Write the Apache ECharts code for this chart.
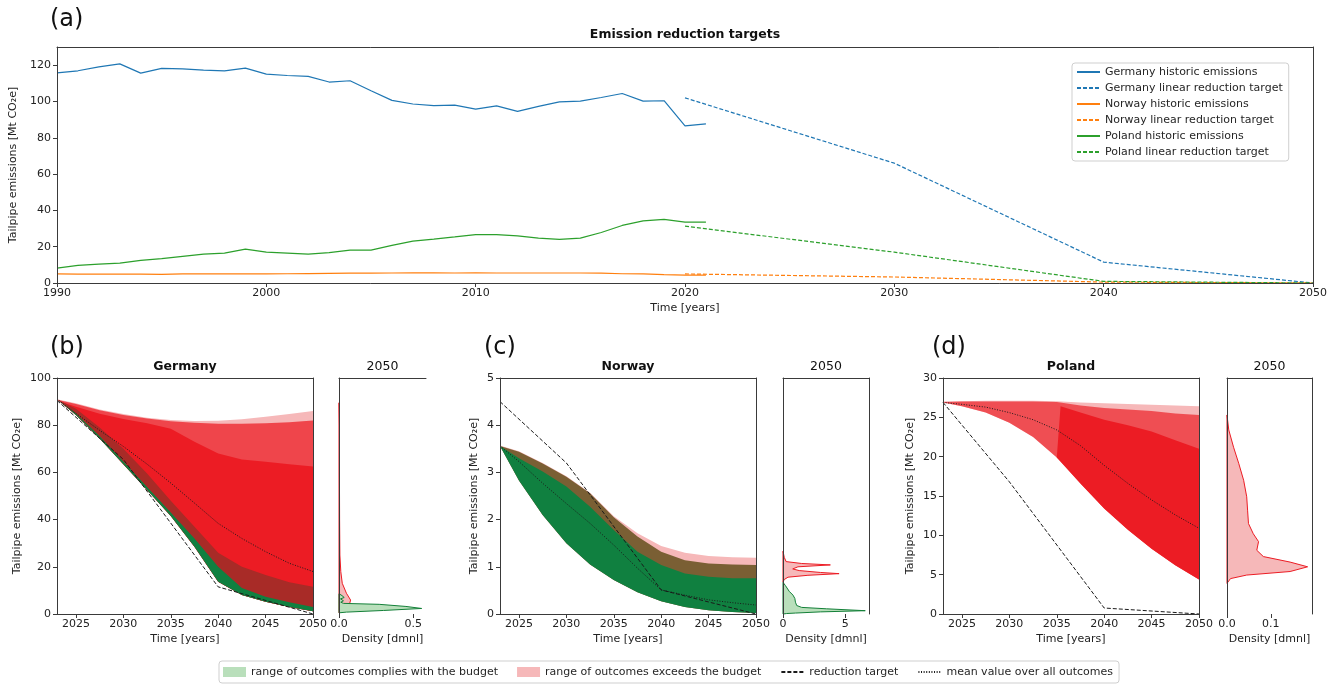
<!DOCTYPE html>
<html><head><meta charset="utf-8">
<script src="https://cdn.jsdelivr.net/npm/echarts@6/dist/echarts.min.js"></script>
<style>html,body{margin:0;padding:0;background:#fff}#c{width:1339px;height:684px}</style>
</head><body><div id="c"></div>
<script>
// ---------- Panel (a): historic emissions and linear targets ----------
const histYears = [1990,1991,1992,1993,1994,1995,1996,1997,1998,1999,2000,2001,2002,2003,2004,2005,2006,2007,2008,2009,2010,2011,2012,2013,2014,2015,2016,2017,2018,2019,2020,2021];
const germanyHist = [115.8,116.9,119.1,120.7,115.6,118.2,118.0,117.3,116.9,118.4,115.1,114.3,113.8,110.7,111.4,105.9,100.6,98.6,97.7,98.0,95.8,97.6,94.5,97.3,99.8,100.2,102.2,104.4,100.2,100.4,86.5,87.7];
const norwayHist  = [5.0,4.9,4.9,4.9,4.9,4.8,5.0,5.0,5.0,5.1,5.0,5.1,5.2,5.3,5.4,5.4,5.5,5.6,5.6,5.5,5.6,5.5,5.5,5.5,5.5,5.5,5.4,5.1,5.0,4.6,4.3,4.3];
const polandHist  = [8.2,9.7,10.4,11.0,12.5,13.4,14.7,15.9,16.5,18.7,17.0,16.5,15.9,16.7,18.1,18.1,20.7,23.1,24.2,25.4,26.7,26.7,26.0,24.7,24.0,24.7,27.8,31.7,34.2,35.0,33.5,33.5];
const targetYears = [2020,2030,2040,2050];
const germanyTarget = [102,66,11.5,0];
const norwayTarget  = [5.0,3.3,0.5,0];
const polandTarget  = [31.3,17.0,0.9,0];
const aXTicks = [1990,2000,2010,2020,2030,2040,2050];
const aYTicks = [0,20,40,60,80,100,120];

// ---------- Panels (b)-(d): outcome ranges ----------
const fanYears = [2023,2025,2027.5,2030,2032.5,2035,2037.5,2040,2042.5,2045,2047.5,2050];
const panelTargetYears = [2023,2030,2040,2050];
const panelXTicks = [2025,2030,2035,2040,2045,2050];

// Germany
const deTarget    = [90.5,65.5,11.5,0];
const dePinkTop   = [91,89.3,86.7,84.7,83.2,82.2,81.8,81.9,82.5,83.6,84.7,86];
const deHatchTop  = [90.8,89,86.3,84.3,82.8,81.7,81.0,80.6,80.6,80.8,81.3,82];
const deSolidTop  = [90.5,87.8,84.8,82.6,80.8,78.5,73,68,65.5,64.5,63.5,62.5];
const deDarkTop   = [91,87,79,70,59.5,48,37,26,20,16.5,13.5,11.5];
const deGreenTop  = [91,85,75.3,64.6,53.8,43,32,20,11,7.3,5,3];
const deLower     = [91,84.3,74.4,63.5,52.5,41.5,28.5,13.7,8,5.2,3,1.2];
const deMean      = [91,85,77.8,71,63.5,55.5,47,38.4,32,26.4,21.5,18];
const deDensRed   = [[0,89.5],[0.003,80],[0.003,60],[0.004,40],[0.006,25],[0.012,18],[0.022,13],[0.05,8.8],[0.078,5.9],[0.072,4.5],[0.04,3.1],[0.01,1.7],[0,0.6]];
const deDensGreen = [[0,8.6],[0.02,7.8],[0.035,7],[0.01,6.4],[0.03,5.6],[0.012,5],[0.03,4.5],[0.27,4.1],[0.45,3.2],[0.556,2.35],[0.3,1.5],[0.05,0.8],[0,0.5]];

// Norway
const noTarget    = [4.5,3.2,0.51,0];
const noPinkTop   = [3.57,3.45,3.2,2.92,2.57,2.07,1.71,1.44,1.3,1.23,1.2,1.19];
const noOliveTop  = [3.56,3.44,3.19,2.91,2.56,2.05,1.64,1.32,1.14,1.07,1.05,1.04];
const noGreenTop  = [3.56,3.3,3.02,2.7,2.27,1.78,1.32,1.04,0.86,0.79,0.76,0.76];
const noLower     = [3.56,2.83,2.1,1.5,1.05,0.72,0.46,0.27,0.15,0.08,0.04,0.02];
const noMean      = [3.56,3.23,2.77,2.34,1.92,1.46,0.97,0.51,0.4,0.3,0.24,0.19];
const noDensRed   = [[0,1.33],[0.1,1.2],[0.25,1.11],[1.5,1.07],[3.8,1.04],[1.2,1.0],[0.78,0.955],[1.3,0.92],[3.0,0.88],[4.5,0.855],[2.0,0.82],[0.4,0.78],[0.1,0.73],[0,0.68]];
const noDensGreen = [[0,0.67],[0.2,0.6],[0.5,0.48],[0.8,0.4],[0.95,0.33],[1.0,0.25],[1.1,0.18],[1.5,0.14],[3.5,0.11],[6.6,0.07],[3.0,0.045],[1.0,0.02],[0.3,0.01],[0,0]];

// Poland
const plTarget    = [26.9,16.8,0.76,0];
const plPinkTop   = [27,27.05,27.1,27.1,27.1,27.05,26.9,26.8,26.7,26.6,26.5,26.4];
const plHatchTop  = [26.95,27,27,27,27,26.95,26.5,26.2,26,25.8,25.5,25.3];
const plLower     = [26.9,26.4,25.6,24.3,22.5,19.9,16.6,13.4,10.7,8.3,6.2,4.4];
const plSolidYears  = [2035,2035.4,2037.5,2040,2042.5,2045,2047.5,2050];
const plSolidTop    = [19.9,26.4,25.6,24.7,24,23.2,22.1,21];
const plSolidBottom = [19.9,19.4,16.6,13.4,10.7,8.3,6.2,4.4];
const plMean      = [26.9,26.65,26.3,25.6,24.7,23.4,21.4,18.9,16.6,14.5,12.6,10.9];
const plDensRed   = [[0,25.3],[0.004,23.4],[0.015,21.2],[0.027,19.1],[0.038,17],[0.045,14.9],[0.047,13.2],[0.049,11.5],[0.06,10.2],[0.072,9.2],[0.068,8.1],[0.083,7.3],[0.144,6.6],[0.184,6.0],[0.144,5.4],[0.045,4.95],[0.008,4.5],[0,3.9]];

// ---------- helpers ----------
const F = 'DejaVu Sans', AX = '#3a3a3a', TXT = '#222', FS = 11;
const RED = '#ec1c24', PINK = '#f6b8b9', HATCH = 'rgba(236,28,36,0.74)', DARK = '#a82b27',
      GREEN = '#108040', OLIVE = '#7a5f34', LGREEN = '#b9dfbb', DGREEN = '#138038';
const NAME_G = 'range of outcomes complies with the budget';
const NAME_R = 'range of outcomes exceeds the budget';
const NAME_T = 'reduction target';
const NAME_M = 'mean value over all outcomes';
const lbl = {fontFamily:F, fontSize:FS, color:TXT};
const pairs = (xs, ys) => xs.map((x,i) => [x, ys[i]]);

function xBottom(gi, min, max, ticks, fmt, name, showLine) {
  return {gridIndex:gi, type:'value', position:'bottom', min, max, z:20,
    splitLine:{show:false},
    axisLine:{show:showLine, onZero:false, lineStyle:{color:AX, width:1}},
    axisTick:{show:true, length:4, customValues:ticks, lineStyle:{color:AX, width:1}},
    axisLabel:Object.assign({customValues:ticks, formatter:fmt, margin:5}, lbl),
    name, nameLocation:'middle', nameGap:20, nameTextStyle:Object.assign({}, lbl)};
}
function xTop(gi, min, max) {
  return {gridIndex:gi, type:'value', position:'top', min, max, z:20, splitLine:{show:false},
    axisLine:{show:true, onZero:false, lineStyle:{color:AX, width:1}},
    axisTick:{show:false}, axisLabel:{show:false}};
}
function yLeft(gi, min, max, ticks, name, gap) {
  const o = {gridIndex:gi, type:'value', position:'left', min, max, z:20, splitLine:{show:false},
    axisLine:{show:true, onZero:false, lineStyle:{color:AX, width:1}}};
  if (ticks) {
    o.axisTick = {show:true, length:4, customValues:ticks, lineStyle:{color:AX, width:1}};
    o.axisLabel = Object.assign({customValues:ticks, formatter:v => String(v), margin:6}, lbl);
    o.name = name; o.nameLocation = 'middle'; o.nameGap = gap; o.nameTextStyle = Object.assign({}, lbl);
  } else {
    o.axisTick = {show:false}; o.axisLabel = {show:false};
  }
  return o;
}
function yRight(gi, min, max) {
  return {gridIndex:gi, type:'value', position:'right', min, max, z:20, splitLine:{show:false},
    axisLine:{show:true, onZero:false, lineStyle:{color:AX, width:1}},
    axisTick:{show:false}, axisLabel:{show:false}};
}
function lineS(name, gi, xs, ys, color, type, width, z) {
  return {type:'line', name, xAxisIndex:gi, yAxisIndex:gi, data:pairs(xs, ys),
    symbol:'none', showSymbol:false, silent:true, z:z || 10,
    lineStyle:{color, width, type}, itemStyle:{color}};
}
function band(name, gi, xs, top, bot, color, z) {
  const rows = xs.map((x,i) => [x, top[i], bot[i]]);
  return {type:'custom', name, xAxisIndex:gi, yAxisIndex:gi, z, silent:true,
    data:rows, encode:{x:0, y:[1,2]}, itemStyle:{color},
    renderItem(params, api) {
      if (params.dataIndex !== 0) return null;
      const up = rows.map(r => api.coord([r[0], r[1]]));
      const dn = rows.map(r => api.coord([r[0], r[2]])).reverse();
      return {type:'polygon', shape:{points:up.concat(dn)}, style:{fill:color}};
    }};
}
function dens(name, gi, pts, fill, stroke, z) {
  return {type:'custom', name, xAxisIndex:gi, yAxisIndex:gi, z, silent:true,
    data:pts, encode:{x:0, y:1}, itemStyle:{color:fill},
    renderItem(params, api) {
      if (params.dataIndex !== 0) return null;
      return {type:'polygon', shape:{points:pts.map(p => api.coord(p))},
        style:{fill, stroke, lineWidth:1}};
    }};
}
const yearFmt = v => String(Math.round(v));

// ---------- layout ----------
const grids = [
  {left:57,  top:47,  width:1256, height:236},
  {left:57,  top:378, width:256,  height:236},
  {left:339, top:378, width:87,   height:236},
  {left:500, top:378, width:256,  height:236},
  {left:783, top:378, width:86,   height:236},
  {left:943, top:378, width:256,  height:236},
  {left:1227,top:378, width:85,   height:236}
].map(g => Object.assign({outerBoundsMode:'none', containLabel:false}, g));

const xAxes = [
  xBottom(0, 1990, 2050, aXTicks, yearFmt, 'Time [years]', true),
  xBottom(1, 2023, 2050, panelXTicks, yearFmt, 'Time [years]', true),
  xBottom(2, 0, 0.585, [0, 0.5], v => v.toFixed(1), 'Density [dmnl]', false),
  xBottom(3, 2023, 2050, panelXTicks, yearFmt, 'Time [years]', true),
  xBottom(4, 0, 6.9, [0, 5], v => String(v), 'Density [dmnl]', false),
  xBottom(5, 2023, 2050, panelXTicks, yearFmt, 'Time [years]', true),
  xBottom(6, 0, 0.194, [0, 0.1], v => v.toFixed(1), 'Density [dmnl]', false),
  xTop(0, 1990, 2050), xTop(1, 2023, 2050), xTop(2, 0, 0.585), xTop(3, 2023, 2050),
  xTop(4, 0, 6.9), xTop(5, 2023, 2050), xTop(6, 0, 0.194)
];
const YNAME = 'Tailpipe emissions [Mt CO\u2082e]';
const yAxes = [
  yLeft(0, 0, 130, aYTicks, YNAME, 34),
  yLeft(1, 0, 100, [0,20,40,60,80,100], YNAME, 34),
  yLeft(2, 0, 100, null),
  yLeft(3, 0, 5, [0,1,2,3,4,5], YNAME, 20),
  yLeft(4, 0, 5, null),
  yLeft(5, 0, 30, [0,5,10,15,20,25,30], YNAME, 27),
  yLeft(6, 0, 30, null),
  yRight(0, 0, 130), yRight(1, 0, 100), yRight(3, 0, 5), yRight(4, 0, 5),
  yRight(5, 0, 30), yRight(6, 0, 30)
];

const series = [
  // panel (a)
  lineS('Germany historic emissions', 0, histYears, germanyHist, '#1f77b4', 'solid', 1.2),
  lineS('Germany linear reduction target', 0, targetYears, germanyTarget, '#1f77b4', [4,2], 1.2),
  lineS('Norway historic emissions', 0, histYears, norwayHist, '#ff7f0e', 'solid', 1.2),
  lineS('Norway linear reduction target', 0, targetYears, norwayTarget, '#ff7f0e', [4,2], 1.2),
  lineS('Poland historic emissions', 0, histYears, polandHist, '#2ca02c', 'solid', 1.2),
  lineS('Poland linear reduction target', 0, targetYears, polandTarget, '#2ca02c', [4,2], 1.2),

  // panel (b) Germany
  band(NAME_R, 1, fanYears, dePinkTop, deLower, PINK, 1),
  band('de hatch', 1, fanYears, deHatchTop, deLower, HATCH, 2),
  band('de solid', 1, fanYears, deSolidTop, deLower, RED, 3),
  band('de dark', 1, fanYears, deDarkTop, deLower, DARK, 4),
  band(NAME_G, 1, fanYears, deGreenTop, deLower, GREEN, 5),
  lineS(NAME_M, 1, fanYears, deMean, '#1a1a1a', [1,1.6], 1),
  lineS(NAME_T, 1, panelTargetYears, deTarget, '#1a1a1a', [4,2], 1),
  dens(NAME_R, 2, deDensRed, PINK, RED, 3),
  dens(NAME_G, 2, deDensGreen, LGREEN, DGREEN, 4),

  // panel (c) Norway
  band(NAME_R, 3, fanYears, noPinkTop, noLower, PINK, 1),
  band('no olive', 3, fanYears, noOliveTop, noLower, OLIVE, 2),
  band(NAME_G, 3, fanYears, noGreenTop, noLower, GREEN, 3),
  lineS(NAME_M, 3, fanYears, noMean, '#1a1a1a', [1,1.6], 1),
  lineS(NAME_T, 3, panelTargetYears, noTarget, '#1a1a1a', [4,2], 1),
  dens(NAME_R, 4, noDensRed, PINK, RED, 3),
  dens(NAME_G, 4, noDensGreen, LGREEN, DGREEN, 4),

  // panel (d) Poland
  band(NAME_R, 5, fanYears, plPinkTop, plLower, PINK, 1),
  band('pl hatch', 5, fanYears, plHatchTop, plLower, 'rgba(236,28,36,0.68)', 2),
  band('pl solid', 5, plSolidYears, plSolidTop, plSolidBottom, RED, 3),
  lineS(NAME_M, 5, fanYears, plMean, '#1a1a1a', [1,1.6], 1),
  lineS(NAME_T, 5, panelTargetYears, plTarget, '#1a1a1a', [4,2], 1),
  dens(NAME_R, 6, plDensRed, PINK, RED, 3)
];

function ttl(text, left, top, size, weight, align) {
  const t = {text, left, top, padding:0, textStyle:{fontFamily:F, fontSize:size, fontWeight:weight, color:'#111'}};
  if (align) t.textAlign = align;
  return t;
}
const titles = [
  ttl('(a)', 50, 8, 24, 'normal'),
  ttl('Emission reduction targets', 685, 28, 12.5, 'bold', 'center'),
  ttl('(b)', 50, 336, 24, 'normal'),
  ttl('(c)', 484, 336, 24, 'normal'),
  ttl('(d)', 932, 336, 24, 'normal'),
  ttl('Germany', 185, 360, 12.5, 'bold', 'center'),
  ttl('2050', 382.5, 360, 12.5, 'normal', 'center'),
  ttl('Norway', 628, 360, 12.5, 'bold', 'center'),
  ttl('2050', 826, 360, 12.5, 'normal', 'center'),
  ttl('Poland', 1071, 360, 12.5, 'bold', 'center'),
  ttl('2050', 1269.5, 360, 12.5, 'normal', 'center')
];

const legends = [
  {orient:'vertical', left:1072, top:63, padding:[3,6,3,4], itemGap:4, itemWidth:23, itemHeight:12,
   borderColor:'#cfcfcf', borderWidth:1, borderRadius:3, backgroundColor:'#fff', selectedMode:false,
   itemStyle:{opacity:0},
   textStyle:{fontFamily:F, fontSize:FS, color:'#262626', lineHeight:12},
   data:['Germany historic emissions','Germany linear reduction target','Norway historic emissions',
         'Norway linear reduction target','Poland historic emissions','Poland linear reduction target']},
  {orient:'horizontal', left:219, top:661, padding:[5,6,5,4], itemGap:19, itemWidth:23, itemHeight:10,
   borderColor:'#cfcfcf', borderWidth:1, borderRadius:3, backgroundColor:'#fff', selectedMode:false,
   itemStyle:{opacity:0},
   textStyle:{fontFamily:F, fontSize:FS, color:'#262626', lineHeight:12},
   data:[{name:NAME_G, icon:'rect', itemStyle:{color:LGREEN, borderWidth:0, opacity:1}},
         {name:NAME_R, icon:'rect', itemStyle:{color:PINK, borderWidth:0, opacity:1}},
         NAME_T, NAME_M]}
];

const chart = echarts.init(document.getElementById('c'), null, {renderer:'canvas'});
chart.setOption({
  animation:false, backgroundColor:'#fff',
  textStyle:{fontFamily:F},
  title:titles, legend:legends, grid:grids, xAxis:xAxes, yAxis:yAxes, series
});
</script></body></html>
